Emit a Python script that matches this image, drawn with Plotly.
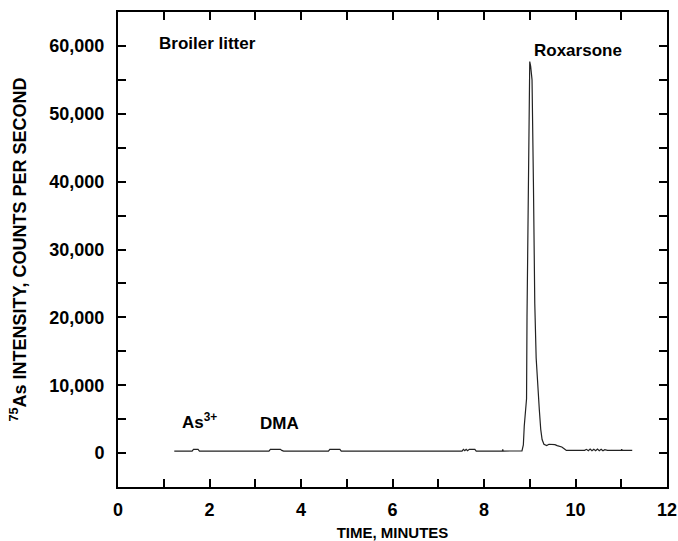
import plotly.graph_objects as go

# Chromatogram trace (time in minutes, 75As counts per second)
time_min = [1.23, 1.62, 1.65, 1.75, 1.78, 3.30, 3.33, 3.55, 3.58, 3.62, 4.60, 4.63, 4.85, 4.88,
            7.52, 7.55, 7.58, 7.61, 7.64, 7.68, 7.75, 7.80, 7.83, 8.40, 8.41, 8.42, 8.83,
            8.86, 8.88, 8.91, 8.93, 8.94, 8.97, 9.00, 9.02, 9.05, 9.08, 9.11, 9.14, 9.16,
            9.18, 9.21, 9.24, 9.27, 9.31, 9.37, 9.42, 9.47, 9.55, 9.60, 9.64, 9.70, 9.76,
            9.80, 10.20, 10.24, 10.28, 10.32, 10.36, 10.40, 10.44, 10.48, 10.52, 10.56,
            10.60, 10.64, 10.70, 11.00, 11.01, 11.02, 11.24]
intensity = [300, 300, 550, 550, 300, 300, 550, 550, 400, 300, 300, 550, 550, 300,
             300, 550, 350, 550, 350, 550, 550, 550, 300, 300, 550, 300, 320,
             1200, 4000, 5800, 8000, 20000, 45000, 57700, 57000, 55000, 40000, 22000, 14000, 11800,
             8000, 6300, 3500, 2000, 1300, 1100, 1300, 1300, 1250, 1100, 1000, 900, 600,
             400, 400, 550, 350, 600, 350, 550, 350, 600, 350, 550,
             350, 500, 400, 400, 550, 400, 400]

x_ticks = [0, 2, 4, 6, 8, 10, 12]
y_ticks = [0, 10000, 20000, 30000, 40000, 50000, 60000]
y_tick_labels = ["0", "10,000", "20,000", "30,000", "40,000", "50,000", "60,000"]

# Peak labels: text, x, y
labels = ["Broiler litter", "Roxarsone", "As<sup>3+</sup>", "DMA"]
label_x = [0.86, 9.04, 1.36, 3.05]
label_y = [60400, 59300, 4700, 4300]

FONT = "Liberation Sans, Arial, sans-serif"

fig = go.Figure()
fig.add_trace(go.Scatter(x=time_min, y=intensity, mode="lines",
                         line=dict(color="#222222", width=1.2), showlegend=False,
                         hoverinfo="skip"))

for t, lx, ly in zip(labels, label_x, label_y):
    fig.add_annotation(x=lx, y=ly, text="<b>" + t + "</b>", showarrow=False,
                       xanchor="left", yanchor="middle",
                       font=dict(family=FONT, size=17, color="black"))

axis_common = dict(showline=True, linecolor="black", linewidth=2, mirror="allticks",
                   ticks="inside", ticklen=8, tickwidth=1.5, tickcolor="black",
                   showgrid=False, zeroline=False, ticklabeloverflow="allow",
                   tickfont=dict(family=FONT, size=18, color="black"))

fig.update_xaxes(range=[0, 12], tickvals=x_ticks, ticktext=["<b>%d</b>" % v for v in x_ticks],
                 minor=dict(dtick=1, tick0=0, ticks="inside", ticklen=8, tickwidth=1.5,
                            tickcolor="black", showgrid=False),
                 title=dict(text="<b>TIME, MINUTES</b>", standoff=12,
                            font=dict(family=FONT, size=15, color="black")),
                 ticklabelstandoff=5,
                 **axis_common)
fig.update_yaxes(range=[-5000, 65000], tickvals=y_ticks,
                 ticktext=["<b>%s</b>" % s for s in y_tick_labels],
                 minor=dict(dtick=5000, tick0=0, ticks="inside", ticklen=8, tickwidth=1.5,
                            tickcolor="black", showgrid=False),
                 title=dict(text="<b><sup>75</sup>As INTENSITY, COUNTS PER SECOND</b>", standoff=18,
                            font=dict(family=FONT, size=18, color="black")),
                 ticklabelstandoff=8,
                 **axis_common)

fig.update_layout(width=678, height=541, plot_bgcolor="white", paper_bgcolor="white",
                  margin=dict(l=118, r=11, t=12, b=54, autoexpand=False),
                  font=dict(family=FONT, color="black"))

# remove the page's default body margin so the figure fills the window exactly
fig.write_html("out.html", config={"displayModeBar": False},
               post_script="document.body.style.margin='0';document.body.style.overflow='hidden';")
